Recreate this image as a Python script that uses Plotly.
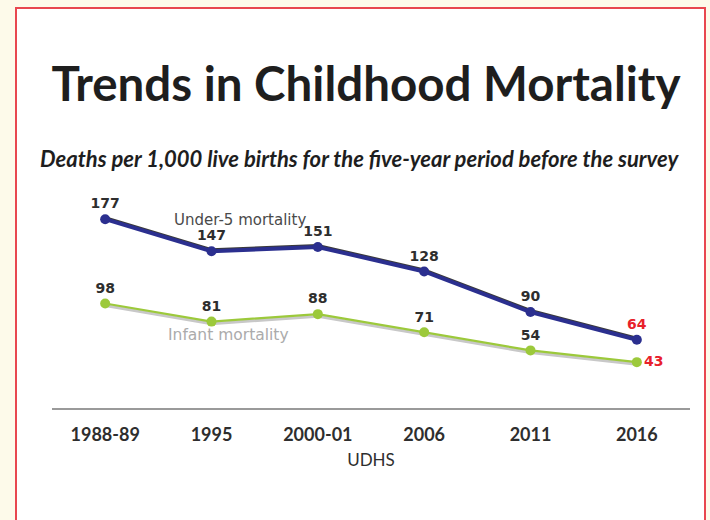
import plotly.graph_objects as go

surveys = ["1988-89", "1995", "2000-01", "2006", "2011", "2016"]
under5 = [177, 147, 151, 128, 90, 64]
infant = [98, 81, 88, 71, 54, 43]

NAVY = "#2B2F8F"
GREEN = "#9CC93B"
RED = "#E8202A"
TXT = "#2E2E2E"
FONT = "Lato"
LFONT = "DejaVu Sans"

YMAX = 195

def label_colors(n):
    return [TXT] * (n - 1) + [RED]

fig = go.Figure()

# soft shadows: infant shadow slightly below (y), under-5 shadow slightly above (y2); main series on y3
fig.add_trace(go.Scatter(x=surveys, y=infant, mode="lines", line=dict(color="#C8C8C8", width=3),
                         xaxis="x", yaxis="y", hoverinfo="skip", showlegend=False))
fig.add_trace(go.Scatter(x=surveys, y=under5, mode="lines", line=dict(color="#3A3A3A", width=3.5),
                         xaxis="x", yaxis="y2", hoverinfo="skip", showlegend=False))

fig.add_trace(go.Scatter(
    x=surveys, y=infant, mode="lines+markers+text", name="Infant mortality",
    xaxis="x", yaxis="y3", cliponaxis=False,
    line=dict(color=GREEN, width=2.2), marker=dict(color=GREEN, size=10),
    text=[str(v) for v in infant],
    textposition=["top center"] * (len(infant) - 1) + ["middle right"],
    textfont=dict(family=LFONT, size=14, color=label_colors(len(infant)), weight="bold"),
    showlegend=False))
fig.add_trace(go.Scatter(
    x=surveys, y=under5, mode="lines+markers+text", name="Under-5 mortality",
    xaxis="x", yaxis="y3", cliponaxis=False,
    line=dict(color=NAVY, width=4), marker=dict(color=NAVY, size=10),
    text=[str(v) for v in under5],
    textposition="top center",
    textfont=dict(family=LFONT, size=14, color=label_colors(len(under5)), weight="bold"),
    showlegend=False))

L, R, T, B = 52, 20, 200, 112
W, H = 710, 520
pw, ph = W - L - R, H - T - B

def px(xp):
    return (xp - L) / pw

def py(yp):
    return (H - B - yp) / ph

fig.update_layout(
    width=W, height=H,
    margin=dict(l=L, r=R, t=T, b=B),
    paper_bgcolor="#FDFAEA", plot_bgcolor="rgba(0,0,0,0)",
    font=dict(family=FONT, color=TXT),
    xaxis=dict(type="category", range=[-0.5, 5.5], showgrid=False, zeroline=False,
               showline=True, linecolor="#9A9A9A", linewidth=2, ticks="",
               ticklabelstandoff=9,
               tickfont=dict(family=FONT, size=18, color=TXT, weight="bold"),
               title=dict(text="UDHS", font=dict(family=FONT, size=17, color=TXT), standoff=11)),
    yaxis=dict(range=[2, YMAX + 2], visible=False, showgrid=False, zeroline=False, fixedrange=True),
    yaxis2=dict(range=[-1.2, YMAX - 1.2], overlaying="y", visible=False, showgrid=False, zeroline=False),
    yaxis3=dict(range=[0, YMAX], overlaying="y", visible=False, showgrid=False, zeroline=False),
    title=dict(text="<b>Trends in Childhood Mortality</b>", x=366 / W, xanchor="center",
               y=1 - 84 / H, yanchor="middle",
               font=dict(family=FONT, size=47.5, color="#1E1E1E")),
    shapes=[dict(type="rect", xref="paper", yref="paper", layer="below",
                 x0=px(16), x1=px(705), y0=py(530), y1=py(8),
                 line=dict(color="#E8474F", width=2), fillcolor="white")],
    annotations=[
        dict(text="<b><i>Deaths per 1,000 live births for the five-year period before the survey</i></b>",
             xref="paper", yref="paper", x=px(360), y=py(158), xanchor="center", yanchor="middle",
             showarrow=False, font=dict(family=FONT, size=22, color="#1E1E1E")),
        dict(text="Under-5 mortality", xref="paper", yref="paper", x=px(240), y=py(220),
             xanchor="center", yanchor="middle",
             showarrow=False, font=dict(family=LFONT, size=15, color="#4A4A4A")),
        dict(text="Infant mortality", xref="paper", yref="paper", x=px(228), y=py(335),
             xanchor="center", yanchor="middle",
             showarrow=False, font=dict(family=LFONT, size=15.5, color="#ABABAB")),
    ],
)

fig.write_html("out.html")
